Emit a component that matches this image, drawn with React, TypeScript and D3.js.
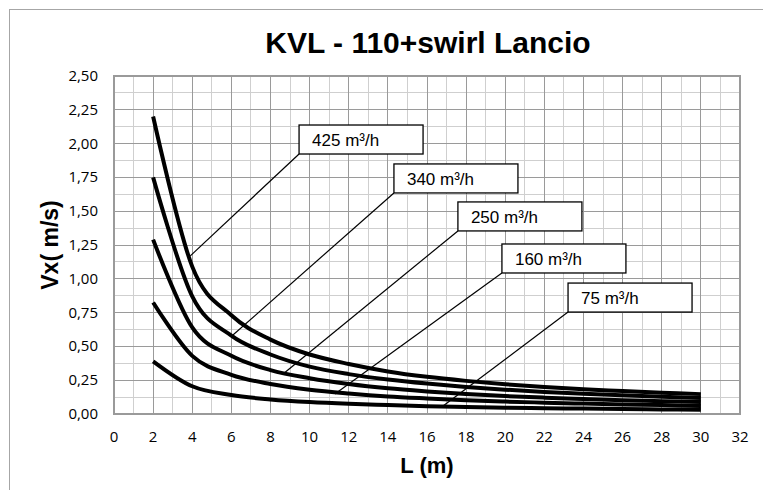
import React from 'react';
import * as d3 from 'd3';

// L (m) sample points
const X_VALUES = [2, 4, 6, 8, 10, 12, 14, 16, 18, 20, 22, 24, 26, 28, 30];

const SERIES_NAMES = ['425 m³/h', '340 m³/h', '250 m³/h', '160 m³/h', '75 m³/h'];

const V425 = [2.2, 1.09, 0.73, 0.55, 0.44, 0.37, 0.315, 0.275, 0.245, 0.22, 0.2, 0.183, 0.17, 0.157, 0.147];
const V340 = [1.75, 0.87, 0.58, 0.44, 0.35, 0.295, 0.255, 0.225, 0.2, 0.18, 0.163, 0.15, 0.138, 0.127, 0.118];
const V250 = [1.29, 0.64, 0.43, 0.325, 0.265, 0.222, 0.19, 0.167, 0.148, 0.133, 0.121, 0.111, 0.102, 0.095, 0.088];
const V160 = [0.825, 0.43, 0.29, 0.222, 0.18, 0.152, 0.13, 0.115, 0.102, 0.092, 0.084, 0.077, 0.071, 0.066, 0.06];
const V75 = [0.39, 0.205, 0.14, 0.108, 0.088, 0.075, 0.066, 0.058, 0.052, 0.047, 0.043, 0.04, 0.037, 0.034, 0.032];

const SERIES = [V425, V340, V250, V160, V75];

// callout boxes: bottom-left corner of box, and where the leader touches the curve (data units)
const LABEL_X = [9.46, 14.31, 17.58, 19.83, 23.21];
const LABEL_Y = [1.923, 1.635, 1.354, 1.043, 0.754];
const POINT_X = [3.9, 6.08, 8.64, 11.29, 16.82];
const POINT_Y = [1.17, 0.584, 0.296, 0.148, 0.059];

const X_TICKS = d3.range(0, 33, 2);
const Y_TICKS = d3.range(0, 2.51, 0.25);

const W = 763;
const H = 490;
const left = 114, right = 740, top = 76, bottom = 414;

export default function App() {
  const x = d3.scaleLinear().domain([0, 32]).range([left, right]);
  const y = d3.scaleLinear().domain([0, 2.5]).range([bottom, top]);

  const line = d3.line<number>()
    .x((_, i) => x(X_VALUES[i]))
    .y(d => y(d))
    .curve(d3.curveCardinal.tension(0));

  const fmt = (v: number) => d3.format('.2f')(v).replace('.', ',');

  const minorX = d3.range(1, 32, 2);
  const minorY = d3.range(0.125, 2.5, 0.25);

  const boxW = 124, boxH = 29;

  return (
    <svg width={W} height={H} style={{ position: 'absolute', left: 0, top: 0, background: '#fff' }}>
      <rect x={9.5} y={9.5} width={900} height={700} fill="#fff" stroke="#a6a6a6" strokeWidth={1} />

      <text x={428} y={53} textAnchor="middle" fontFamily="'Liberation Sans', Arial, sans-serif"
        fontWeight="bold" fontSize={30} fill="#000">KVL - 110+swirl Lancio</text>

      {/* grid */}
      <g shapeRendering="crispEdges">
        {minorX.map(v => (
          <line key={'mx' + v} x1={x(v)} x2={x(v)} y1={top} y2={bottom} stroke="#cfcfcf" strokeWidth={1} />
        ))}
        {minorY.map(v => (
          <line key={'my' + v} x1={left} x2={right} y1={y(v)} y2={y(v)} stroke="#cfcfcf" strokeWidth={1} />
        ))}
        {X_TICKS.map(v => (
          <line key={'gx' + v} x1={x(v)} x2={x(v)} y1={top} y2={bottom} stroke="#9a9a9a" strokeWidth={1} />
        ))}
        {Y_TICKS.map(v => (
          <line key={'gy' + v} x1={left} x2={right} y1={y(v)} y2={y(v)} stroke="#9a9a9a" strokeWidth={1} />
        ))}
        <rect x={left} y={top} width={right - left} height={bottom - top} fill="none" stroke="#9a9a9a" strokeWidth={1.5} />
      </g>

      {/* tick labels */}
      <g fontFamily="'Open Sans', sans-serif" fontSize={15} fill="#000">
        {Y_TICKS.map(v => (
          <text key={'yl' + v} x={98} y={y(v) + 5} textAnchor="end">{fmt(v)}</text>
        ))}
        {X_TICKS.map(v => (
          <text key={'xl' + v} x={x(v)} y={442} textAnchor="middle">{v}</text>
        ))}
      </g>

      <text transform={`translate(58,${(top + bottom) / 2}) rotate(-90)`} textAnchor="middle"
        fontFamily="'Liberation Sans', Arial, sans-serif" fontWeight="bold" fontSize={23}>Vx( m/s)</text>
      <text x={427} y={473} textAnchor="middle" fontFamily="'Liberation Sans', Arial, sans-serif"
        fontWeight="bold" fontSize={22}>L (m)</text>

      {/* curves */}
      {SERIES.map((s, i) => (
        <path key={'s' + i} d={line(s) || ''} fill="none" stroke="#000" strokeWidth={4} strokeLinejoin="round" />
      ))}

      {/* callouts */}
      {SERIES_NAMES.map((name, i) => {
        const bx = x(LABEL_X[i]);
        const by = y(LABEL_Y[i]);
        return (
          <g key={'c' + i}>
            <line x1={bx} y1={by} x2={x(POINT_X[i])} y2={y(POINT_Y[i])} stroke="#000" strokeWidth={1.2} />
            <rect x={bx} y={by - boxH} width={boxW} height={boxH} fill="#fff" stroke="#000" strokeWidth={1.3} />
            <text x={bx + 13} y={by - 8} fontFamily="'Liberation Sans', Arial, sans-serif" fontSize={17} fill="#000">{name}</text>
          </g>
        );
      })}
    </svg>
  );
}
